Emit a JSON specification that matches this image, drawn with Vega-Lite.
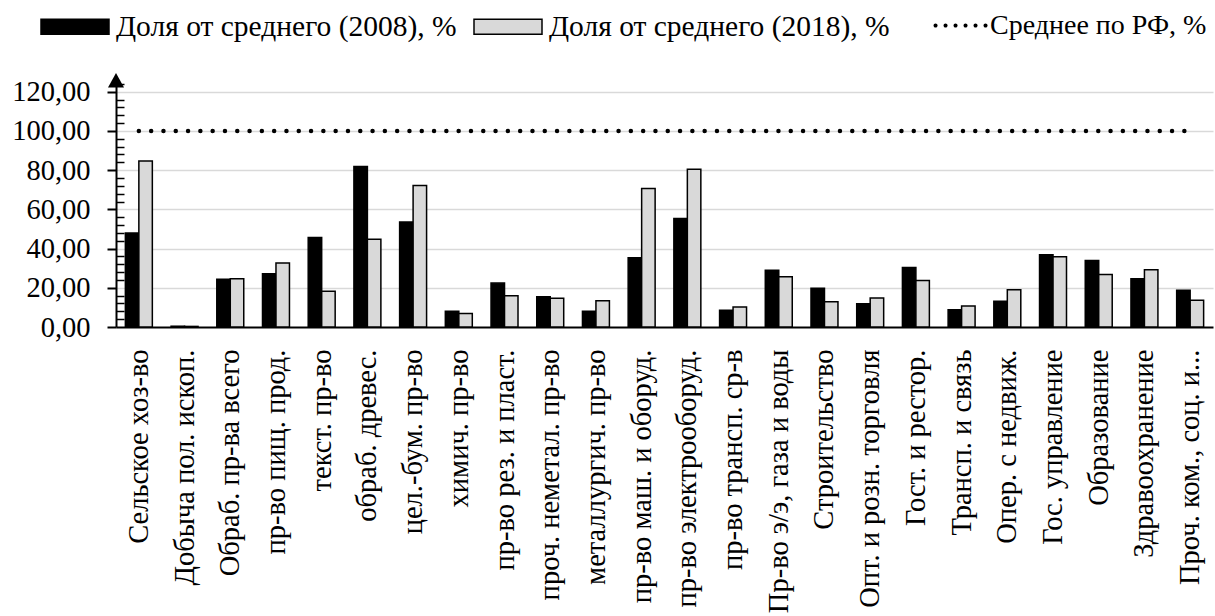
{
  "$schema": "https://vega.github.io/schema/vega-lite/v6.json",
  "width": 1097,
  "height": 251,
  "autosize": {"type": "none"},
  "padding": {"left": 116, "top": 76, "right": 2, "bottom": 289},
  "background": "white",
  "config": {
    "view": {"stroke": null},
    "font": "Liberation Serif",
    "legend": {
      "symbolSize": 4624, "labelFont": "Liberation Serif", "labelFontSize": 29.5, "labelColor": "black",
      "labelOffset": 6, "columnPadding": 14, "padding": 0, "labelLimit": 500, "symbolOpacity": 1
    }
  },
  "datasets": {
    "bars": [
      {"cat": "Сельское хоз-во", "series": "Доля от среднего (2008), %", "value": 47.9},
      {"cat": "Сельское хоз-во", "series": "Доля от среднего (2018), %", "value": 84.7},
      {"cat": "Добыча пол. ископ.", "series": "Доля от среднего (2008), %", "value": 0.4},
      {"cat": "Добыча пол. ископ.", "series": "Доля от среднего (2018), %", "value": 0.3},
      {"cat": "Обраб. пр-ва всего", "series": "Доля от среднего (2008), %", "value": 24.4},
      {"cat": "Обраб. пр-ва всего", "series": "Доля от среднего (2018), %", "value": 24.6},
      {"cat": "пр-во пищ. прод.", "series": "Доля от среднего (2008), %", "value": 27.1},
      {"cat": "пр-во пищ. прод.", "series": "Доля от среднего (2018), %", "value": 32.6},
      {"cat": "текст. пр-во", "series": "Доля от среднего (2008), %", "value": 45.7},
      {"cat": "текст. пр-во", "series": "Доля от среднего (2018), %", "value": 18.2},
      {"cat": "обраб. древес.", "series": "Доля от среднего (2008), %", "value": 81.8},
      {"cat": "обраб. древес.", "series": "Доля от среднего (2018), %", "value": 44.8},
      {"cat": "цел.-бум. пр-во", "series": "Доля от среднего (2008), %", "value": 53.6},
      {"cat": "цел.-бум. пр-во", "series": "Доля от среднего (2018), %", "value": 72.2},
      {"cat": "химич. пр-во", "series": "Доля от среднего (2008), %", "value": 8.0},
      {"cat": "химич. пр-во", "series": "Доля от среднего (2018), %", "value": 6.9},
      {"cat": "пр-во рез. и пласт.", "series": "Доля от среднего (2008), %", "value": 22.4},
      {"cat": "пр-во рез. и пласт.", "series": "Доля от среднего (2018), %", "value": 15.9},
      {"cat": "проч. неметал. пр-во", "series": "Доля от среднего (2008), %", "value": 15.4},
      {"cat": "проч. неметал. пр-во", "series": "Доля от среднего (2018), %", "value": 14.6},
      {"cat": "металлургич. пр-во", "series": "Доля от среднего (2008), %", "value": 8.0},
      {"cat": "металлургич. пр-во", "series": "Доля от среднего (2018), %", "value": 13.4},
      {"cat": "пр-во маш. и оборуд.", "series": "Доля от среднего (2008), %", "value": 35.3},
      {"cat": "пр-во маш. и оборуд.", "series": "Доля от среднего (2018), %", "value": 70.6},
      {"cat": "пр-во электрооборуд.", "series": "Доля от среднего (2008), %", "value": 55.3},
      {"cat": "пр-во электрооборуд.", "series": "Доля от среднего (2018), %", "value": 80.5},
      {"cat": "пр-во трансп. ср-в", "series": "Доля от среднего (2008), %", "value": 8.5},
      {"cat": "пр-во трансп. ср-в", "series": "Доля от среднего (2018), %", "value": 10.2},
      {"cat": "Пр-во э/э, газа и воды", "series": "Доля от среднего (2008), %", "value": 29.0},
      {"cat": "Пр-во э/э, газа и воды", "series": "Доля от среднего (2018), %", "value": 25.6},
      {"cat": "Строительство", "series": "Доля от среднего (2008), %", "value": 19.7},
      {"cat": "Строительство", "series": "Доля от среднего (2018), %", "value": 12.9},
      {"cat": "Опт. и розн. торговля", "series": "Доля от среднего (2008), %", "value": 11.9},
      {"cat": "Опт. и розн. торговля", "series": "Доля от среднего (2018), %", "value": 14.8},
      {"cat": "Гост. и рестор.", "series": "Доля от среднего (2008), %", "value": 30.4},
      {"cat": "Гост. и рестор.", "series": "Доля от среднего (2018), %", "value": 23.7},
      {"cat": "Трансп. и связь", "series": "Доля от среднего (2008), %", "value": 8.8},
      {"cat": "Трансп. и связь", "series": "Доля от среднего (2018), %", "value": 10.7},
      {"cat": "Опер. с недвиж.", "series": "Доля от среднего (2008), %", "value": 13.1},
      {"cat": "Опер. с недвиж.", "series": "Доля от среднего (2018), %", "value": 19.0},
      {"cat": "Гос. управление", "series": "Доля от среднего (2008), %", "value": 36.8},
      {"cat": "Гос. управление", "series": "Доля от среднего (2018), %", "value": 35.8},
      {"cat": "Образование", "series": "Доля от среднего (2008), %", "value": 33.9},
      {"cat": "Образование", "series": "Доля от среднего (2018), %", "value": 26.8},
      {"cat": "Здравоохранение", "series": "Доля от среднего (2008), %", "value": 24.6},
      {"cat": "Здравоохранение", "series": "Доля от среднего (2018), %", "value": 29.2},
      {"cat": "Проч. ком., соц. и...", "series": "Доля от среднего (2008), %", "value": 18.7},
      {"cat": "Проч. ком., соц. и...", "series": "Доля от среднего (2018), %", "value": 13.6}
    ],
    "avg": [
      {"cat": "Сельское хоз-во", "series": "Среднее по РФ, %", "value": 100},
      {"cat": "Добыча пол. ископ.", "series": "Среднее по РФ, %", "value": 100},
      {"cat": "Обраб. пр-ва всего", "series": "Среднее по РФ, %", "value": 100},
      {"cat": "пр-во пищ. прод.", "series": "Среднее по РФ, %", "value": 100},
      {"cat": "текст. пр-во", "series": "Среднее по РФ, %", "value": 100},
      {"cat": "обраб. древес.", "series": "Среднее по РФ, %", "value": 100},
      {"cat": "цел.-бум. пр-во", "series": "Среднее по РФ, %", "value": 100},
      {"cat": "химич. пр-во", "series": "Среднее по РФ, %", "value": 100},
      {"cat": "пр-во рез. и пласт.", "series": "Среднее по РФ, %", "value": 100},
      {"cat": "проч. неметал. пр-во", "series": "Среднее по РФ, %", "value": 100},
      {"cat": "металлургич. пр-во", "series": "Среднее по РФ, %", "value": 100},
      {"cat": "пр-во маш. и оборуд.", "series": "Среднее по РФ, %", "value": 100},
      {"cat": "пр-во электрооборуд.", "series": "Среднее по РФ, %", "value": 100},
      {"cat": "пр-во трансп. ср-в", "series": "Среднее по РФ, %", "value": 100},
      {"cat": "Пр-во э/э, газа и воды", "series": "Среднее по РФ, %", "value": 100},
      {"cat": "Строительство", "series": "Среднее по РФ, %", "value": 100},
      {"cat": "Опт. и розн. торговля", "series": "Среднее по РФ, %", "value": 100},
      {"cat": "Гост. и рестор.", "series": "Среднее по РФ, %", "value": 100},
      {"cat": "Трансп. и связь", "series": "Среднее по РФ, %", "value": 100},
      {"cat": "Опер. с недвиж.", "series": "Среднее по РФ, %", "value": 100},
      {"cat": "Гос. управление", "series": "Среднее по РФ, %", "value": 100},
      {"cat": "Образование", "series": "Среднее по РФ, %", "value": 100},
      {"cat": "Здравоохранение", "series": "Среднее по РФ, %", "value": 100},
      {"cat": "Проч. ком., соц. и...", "series": "Среднее по РФ, %", "value": 100}
    ],
    "arrow": [{"ax": 0, "ay": 125.8}]
  },
  "layer": [
    {
      "layer": [
        {
          "data": {"name": "bars"},
          "mark": {"type": "bar", "stroke": "black", "strokeWidth": 1.5},
          "encoding": {
            "x": {
              "field": "cat", "type": "nominal",
              "scale": {
                "domain": ["Сельское хоз-во", "Добыча пол. ископ.", "Обраб. пр-ва всего", "пр-во пищ. прод.", "текст. пр-во", "обраб. древес.", "цел.-бум. пр-во", "химич. пр-во", "пр-во рез. и пласт.", "проч. неметал. пр-во", "металлургич. пр-во", "пр-во маш. и оборуд.", "пр-во электрооборуд.", "пр-во трансп. ср-в", "Пр-во э/э, газа и воды", "Строительство", "Опт. и розн. торговля", "Гост. и рестор.", "Трансп. и связь", "Опер. с недвиж.", "Гос. управление", "Образование", "Здравоохранение", "Проч. ком., соц. и..."],
                "paddingInner": 0.41, "paddingOuter": 0.205
              },
              "axis": {
                "title": null, "labelAngle": -90, "labelFont": "Liberation Serif", "labelFontSize": 28.5,
                "labelColor": "black", "labelPadding": 22, "ticks": false, "domainColor": "black",
                "domainWidth": 2, "labelLimit": 400, "labelOverlap": false, "grid": false
              }
            },
            "xOffset": {
              "field": "series", "type": "nominal",
              "scale": {"domain": ["Доля от среднего (2008), %", "Доля от среднего (2018), %"], "paddingInner": 0, "paddingOuter": 0}
            },
            "y": {
              "field": "value", "type": "quantitative",
              "scale": {"domain": [0, 128], "nice": false, "zero": true},
              "axis": {
                "title": null,
                "tickCount": 100,
                "values": [0, 4, 8, 12, 16, 20, 24, 28, 32, 36, 40, 44, 48, 52, 56, 60, 64, 68, 72, 76, 80, 84, 88, 92, 96, 100, 104, 108, 112, 116, 120, 124],
                "labelExpr": "datum.value % 20 === 0 ? replace(format(datum.value, '.2f'), '.', ',') : ''",
                "labelFont": "Liberation Serif", "labelFontSize": 28.5, "labelColor": "black",
                "labelPadding": 17, "labelOverlap": false, "labelBound": false,
                "domainColor": "black", "domainWidth": 2, "tickColor": "black",
                "tickWidth": {"condition": {"test": "datum.value % 20 === 0", "value": 2}, "value": 1.5},
                "tickSize": {"condition": {"test": "datum.value % 20 === 0", "value": 9}, "value": -8},
                "grid": true, "gridColor": "#d9d9d9", "gridWidth": 1.5,
                "gridOpacity": {"condition": {"test": "datum.value % 20 === 0 && datum.value > 0", "value": 1}, "value": 0}
              }
            },
            "fill": {
              "field": "series", "type": "nominal",
              "scale": {
                "domain": ["Доля от среднего (2008), %", "Доля от среднего (2018), %"],
                "range": ["black", "#d9d9d9"]
              },
              "legend": {
                "title": null, "orient": "none", "legendX": -76, "legendY": -84.5, "direction": "horizontal",
                "symbolType": "M-1,-0.22H1V0.22H-1Z", "symbolStrokeColor": "black", "symbolStrokeWidth": 1.5
              }
            }
          }
        },
        {
          "data": {"name": "avg"},
          "mark": {"type": "line", "strokeWidth": 4.5, "strokeDash": [0, 12.3], "strokeCap": "round"},
          "encoding": {
            "x": {"field": "cat", "type": "nominal"},
            "y": {"field": "value", "type": "quantitative"},
            "stroke": {
              "field": "series", "type": "nominal",
              "scale": {"domain": ["Среднее по РФ, %"], "range": ["black"]},
              "legend": {
                "title": null, "orient": "none", "legendX": 798, "legendY": -84.5, "direction": "horizontal",
                "labelFontSize": 28, "labelOffset": 8,
                "symbolType": "M-0.426,0a0.06,0.06 0 1,0 0.12,0a0.06,0.06 0 1,0 -0.12,0M-0.132,0a0.06,0.06 0 1,0 0.12,0a0.06,0.06 0 1,0 -0.12,0M0.162,0a0.06,0.06 0 1,0 0.12,0a0.06,0.06 0 1,0 -0.12,0M0.456,0a0.06,0.06 0 1,0 0.12,0a0.06,0.06 0 1,0 -0.12,0M0.75,0a0.06,0.06 0 1,0 0.12,0a0.06,0.06 0 1,0 -0.12,0M1.044,0a0.06,0.06 0 1,0 0.12,0a0.06,0.06 0 1,0 -0.12,0",
                "symbolFillColor": "black", "symbolStrokeWidth": 0, "symbolDash": []
              }
            }
          }
        }
      ]
    },
    {
      "data": {"name": "arrow"},
      "mark": {"type": "point", "shape": "M0,-0.9L1,0.9L-1,0.9Z", "size": 256, "filled": true, "color": "black", "opacity": 1},
      "encoding": {
        "x": {"field": "ax", "type": "quantitative", "scale": {"domain": [0, 1]}, "axis": null},
        "y": {"field": "ay", "type": "quantitative"}
      }
    }
  ],
  "resolve": {"scale": {"x": "independent"}}
}
